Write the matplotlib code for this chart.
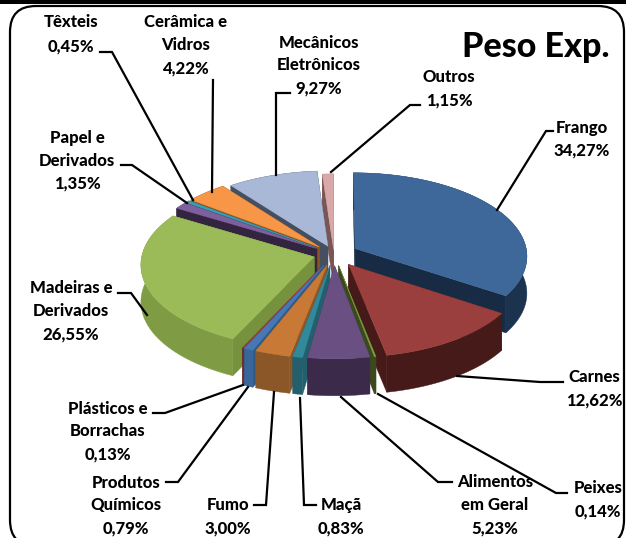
import numpy as np
import matplotlib
matplotlib.use("Agg")
import matplotlib.pyplot as plt
from matplotlib.patches import Polygon, FancyBboxPatch

plt.rcParams['font.family'] = ['Lato', 'DejaVu Sans']

names = ["Frango", "Carnes", "Peixes", "Alimentos\nem Geral", "Maçã", "Fumo",
         "Produtos\nQuímicos", "Plásticos e\nBorrachas", "Madeiras e\nDerivados",
         "Papel e\nDerivados", "Têxteis", "Cerâmica e\nVidros",
         "Mecânicos\nEletrônicos", "Outros"]
values = [34.27, 12.62, 0.14, 5.23, 0.83, 3.00, 0.79, 0.13, 26.55, 1.35, 0.45, 4.22, 9.27, 1.15]
value_labels = ["34,27%", "12,62%", "0,14%", "5,23%", "0,83%", "3,00%", "0,79%", "0,13%",
                "26,55%", "1,35%", "0,45%", "4,22%", "9,27%", "1,15%"]

top_colors = ["#3E6899", "#9A3F3D", "#7E9A42", "#6A5082", "#33899C", "#C77935", "#4877B5",
              "#A04040", "#9BBB59", "#7F609F", "#33A0B5", "#F79646", "#A8B8D6", "#D9A8A8"]
cut_colors = ["#182B45", "#451A18", "#3A4A1C", "#3C2A4A", "#235F6C", "#8B5628", "#335985",
              "#6E2A2A", "#76923C", "#33243F", "#1F6A78", "#8A5520", "#454F5F", "#7A5555"]
rim_colors = ["#1C3350", "#451A18", "#3A4A1C", "#3C2A4A", "#235F6C", "#8B5628", "#3A659A",
              "#6E2A2A", "#7F9C45", "#33243F", "#1F6A78", "#8A5520", "#454F5F", "#7A5555"]
explode = [0.14, 0.15, 0.14, 0.14, 0.14, 0.14, 0.14, 0.14, 0.12, 0.12, 0.12, 0.12, 0.10, 0.05]

# where the label text sits: centre x, then y of each line
label_pos = [(582, [128, 150]), (594, [377, 400]), (598, [488, 511]), (495, [482, 505, 528]),
             (341, [505, 528]), (228, [505, 528]), (126, [483, 505, 528]), (108, [409, 431, 454]),
             (71, [288, 311, 334]), (77, [138, 161, 183]), (71, [22, 46]), (186, [22, 45, 68]),
             (319, [43, 65, 88]), (449, [77, 100])]
leaders = [[(553, 131), (546, 131), (497, 210)],
           [(563, 382), (540, 382), (457, 376)],
           [(567, 493), (556, 493), (378, 394)],
           [(452, 482), (438, 482), (341, 397)],
           [(316, 505), (304, 505), (300, 398)],
           [(254, 505), (266, 505), (274, 392)],
           [(166, 482), (178, 482), (248, 387)],
           [(153, 413), (165, 413), (243, 385)],
           [(118, 293), (131, 293), (147, 315)],
           [(121, 165), (132, 165), (187, 203)],
           [(100, 52), (112, 52), (193, 200)],
           [(213, 80), (212, 192)],
           [(290, 93), (276, 93), (276, 175)],
           [(420, 105), (410, 105), (331, 172)]]

CX, CY = 334, 254
RX, RY = 172, 83
PERSP = 0.085
DEPTH = 37


def project(u, v):
  s = 1 / (1 - PERSP * v)
  return CX + RX * u * s, CY + RY * v * s


fig = plt.figure(figsize=(6.26, 5.38), dpi=100)
ax = fig.add_axes([0, 0, 1, 1])
ax.set_xlim(0, 626)
ax.set_ylim(538, 0)
ax.axis("off")

# frame
ax.add_patch(FancyBboxPatch((10, 6), 614, 540, boxstyle="round,pad=0,rounding_size=26",
                            fc="white", ec="black", lw=1.6))
ax.fill_between([0, 626], 0, 3.5, color="black", lw=0)

edges = np.cumsum([0] + values) / sum(values) * 2 * np.pi
order = sorted(range(len(values)), key=lambda i: -np.cos((edges[i] + edges[i + 1]) / 2))

for i in order:
  a0, a1 = edges[i], edges[i + 1]
  mid = (a0 + a1) / 2
  u0, v0 = explode[i] * np.sin(mid), -explode[i] * np.cos(mid)
  th = np.linspace(a0, a1, max(3, int((a1 - a0) * 60)))
  arc = np.array([project(u0 + np.sin(t), v0 - np.cos(t)) for t in th])
  apex = np.array(project(u0, v0))
  drop = np.array([0, DEPTH])
  # cut faces
  for p in (arc[0], arc[-1]):
    ax.add_patch(Polygon([apex, p, p + drop, apex + drop], fc=cut_colors[i], ec=cut_colors[i], lw=0.3, zorder=2))
  # rim
  rim = np.vstack([arc, (arc + drop)[::-1]])
  ax.add_patch(Polygon(rim, fc=rim_colors[i], ec=rim_colors[i], lw=0.3, zorder=2))
  # top
  ax.add_patch(Polygon(np.vstack([apex, arc]), fc=top_colors[i], ec=top_colors[i], lw=0.3, zorder=2))

for pts in leaders:
  xs, ys = zip(*pts)
  ax.plot(xs, ys, color="black", lw=1.6, zorder=3, solid_joinstyle="miter")

for name, val, (x, ys) in zip(names, value_labels, label_pos):
  for line, y in zip(name.split("\n") + [val], ys):
    ax.text(x, y, line, ha="center", va="center", fontsize=12, fontweight="black", color="black", zorder=4)

ax.text(536, 47, "Peso Exp.", ha="center", va="center", fontsize=24.5, fontweight="black", color="black", zorder=4)

fig.savefig("out.png", dpi=100)
